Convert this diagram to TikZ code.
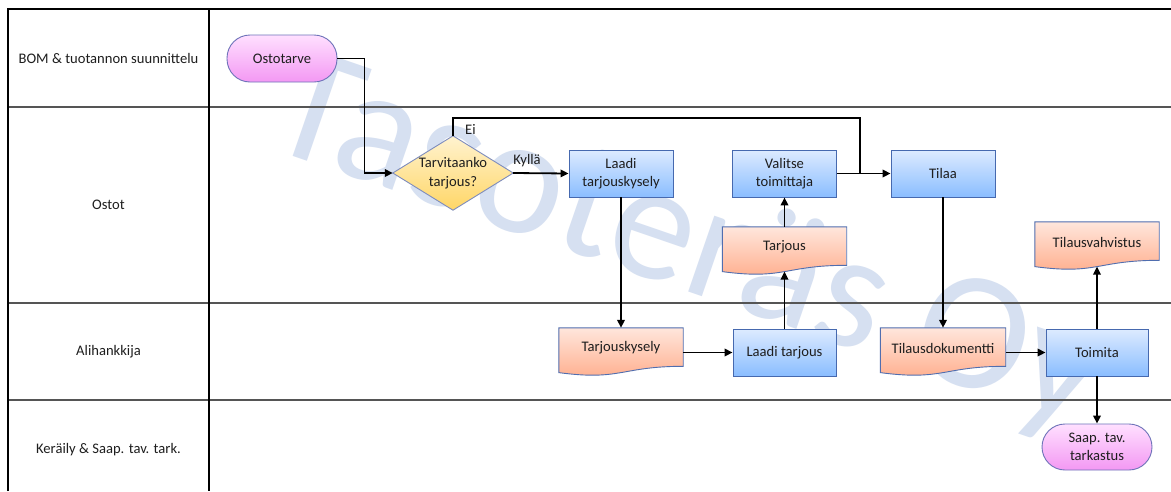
\documentclass[tikz,border=0pt]{standalone}
\usepackage{fontspec}
\setmainfont{Carlito}
\usetikzlibrary{arrows.meta,calc}

\definecolor{wmblue}{RGB}{214,224,241}
\definecolor{laneline}{RGB}{85,85,85}
\definecolor{txt}{RGB}{30,30,30}
\definecolor{boxtop}{RGB}{221,235,255}
\definecolor{boxbot}{RGB}{138,189,255}
\definecolor{boxedge}{RGB}{70,105,175}
\definecolor{doctop}{RGB}{255,230,220}
\definecolor{docbot}{RGB}{255,172,138}
\definecolor{docedge}{RGB}{80,110,175}
\definecolor{pilltop}{RGB}{255,224,255}
\definecolor{pillbot}{RGB}{243,152,243}
\definecolor{pilledge}{RGB}{110,115,185}
\definecolor{dectop}{RGB}{255,243,208}
\definecolor{decbot}{RGB}{255,214,102}
\definecolor{decedge}{RGB}{125,140,190}

\pgfdeclarelayer{wm}
\pgfdeclarelayer{bg}
\pgfsetlayers{wm,bg,main}

\tikzset{
  lbl/.style={text=txt, inner sep=1pt},
  lanelabel/.style={text=txt, inner sep=0pt},
  task/.style={rectangle, draw=boxedge, line width=0.9pt, top color=boxtop,
    bottom color=boxbot, minimum width=104pt, minimum height=47pt,
    align=center, inner sep=2pt, text=txt},
  terminal/.style={rectangle, rounded corners=23pt, draw=pilledge, line width=0.9pt,
    top color=pilltop, bottom color=pillbot, minimum width=110pt,
    minimum height=47pt, align=center, inner sep=2pt, text=txt},
  docnode/.style={rectangle, minimum width=124pt, minimum height=40pt,
    align=center, inner sep=2pt, text=txt},
  docshade/.style={draw=docedge, line width=0.9pt, top color=doctop, bottom color=docbot},
  decision/.style={rectangle, minimum width=120pt, minimum height=74pt,
    align=center, inner sep=0pt, text=txt},
  conn/.style={line width=1.8pt, black},
  arr/.style={conn, -{Triangle[length=8pt,width=7.5pt]}},
  lane/.style={line width=1.2pt, laneline},
  lanev/.style={line width=1.2pt, black},
}

% document symbol with a wavy lower edge around a docnode
\newcommand\docpath[1]{%
  \begin{pgfonlayer}{bg}
    \path[docshade] (#1.north west) -- (#1.north east)
      -- ($(#1.north east)+(0,38.5)$)
      .. controls ($(#1.north)+(0,38.5)$) and ($(#1.north)+(0,53.2)$)
      .. ($(#1.north west)+(0,44.8)$) -- cycle;
  \end{pgfonlayer}}

\begin{document}
\begin{tikzpicture}[x=1pt, y=-1pt, font=\fontsize{14.6}{18.5}\selectfont]
\useasboundingbox (0,0) rectangle (1171,491);

\begin{pgfonlayer}{wm}
  \fill[white] (0,0) rectangle (1171,491);
  \node[rotate=-19, anchor=base west, text=wmblue, inner sep=0pt,
        font=\fontsize{168}{168}\selectfont] (watermark) at (261,145) {Tasoteräs Oy};
  % swimlane grid
  \draw[lane] (8,107) -- (1171,107);
  \draw[lane] (8,303) -- (1171,303);
  \draw[lane] (8,400) -- (1171,400);
  \draw[lanev] (8,491) -- (8,9) -- (1171,9);
  \draw[lanev] (209,9) -- (209,491);
\end{pgfonlayer}

% lane titles
\node[lanelabel] (l1) at (108.5,58) {BOM \& tuotannon suunnittelu};
\node[lanelabel] (l2) at (108.5,205) {Ostot};
\node[lanelabel] (l3) at (108.5,352) {Alihankkija};
\node[lanelabel] (l4) at (108.5,450) {Keräily \& Saap. tav. tark.};

% process steps
\node[terminal] (ostotarve) at (282,58.5) {Ostotarve};

\node[decision] (dec) at (453,173) {Tarvitaanko\\tarjous?};
\begin{pgfonlayer}{bg}
  \path[draw=decedge, line width=0.9pt, top color=dectop, bottom color=decbot]
    (dec.west) -- (dec.north) -- (dec.east) -- (dec.south) -- cycle;
\end{pgfonlayer}

\node[task] (laadiTK) at (621,173.5) {Laadi\\tarjouskysely};
\node[task] (valitse) at (784.5,173.5) {Valitse\\toimittaja};
\node[task] (tilaa) at (943,173.5) {Tilaa};

\node[docnode] (tarjous) at (784.5,247) {Tarjous};
\docpath{tarjous}
\node[docnode] (tilausvahv) at (1097,242) {Tilausvahvistus};
\docpath{tilausvahv}

\node[docnode] (tarjouskysely) at (621,348) {Tarjouskysely};
\docpath{tarjouskysely}
\node[task, minimum width=103pt] (laaditarjous) at (784.5,352.5) {Laadi tarjous};
\node[docnode, minimum width=125pt] (tilausdok) at (943,348) {Tilausdokumentti};
\docpath{tilausdok}
\node[task, minimum width=102pt] (toimita) at (1097,352.5) {Toimita};

\node[terminal, minimum height=46pt] (saap) at (1097,447) {Saap. tav.\\tarkastus};

% wavy lower edges where arrows end
\coordinate (tarjousB) at ($(tarjous.north)+(0,44.8)$);
\coordinate (tilausvahvB) at ($(tilausvahv.north)+(0,44.8)$);
\coordinate (join) at (860,173.5);

% connectors
\draw[arr] (ostotarve.east) -- ++(27,0) |- (dec.west);
\draw[arr] (dec.east) -- (laadiTK.west)
  node[lbl, pos=0.25, above=4pt] (kylla) {Kyllä};
\draw[conn] (dec.north) -- ++(0,-18) -| (join);
\node[lbl, anchor=west] (ei) at ($(dec.north)+(11,-6)$) {Ei};
\draw[arr] (valitse.east) -- (tilaa.west);
\draw[arr] (laadiTK.south) -- (tarjouskysely.north);
\draw[arr] (laaditarjous.west -| tarjouskysely.east) -- (laaditarjous.west);
\draw[arr] (laaditarjous.north) -- (tarjousB);
\draw[arr] (tarjous.north) -- (valitse.south);
\draw[arr] (tilaa.south) -- (tilausdok.north);
\draw[arr] (toimita.west -| tilausdok.east) -- (toimita.west);
\draw[arr] (toimita.north) -- (tilausvahvB);
\draw[arr] (toimita.south) -- (saap.north);
\end{tikzpicture}
\end{document}
